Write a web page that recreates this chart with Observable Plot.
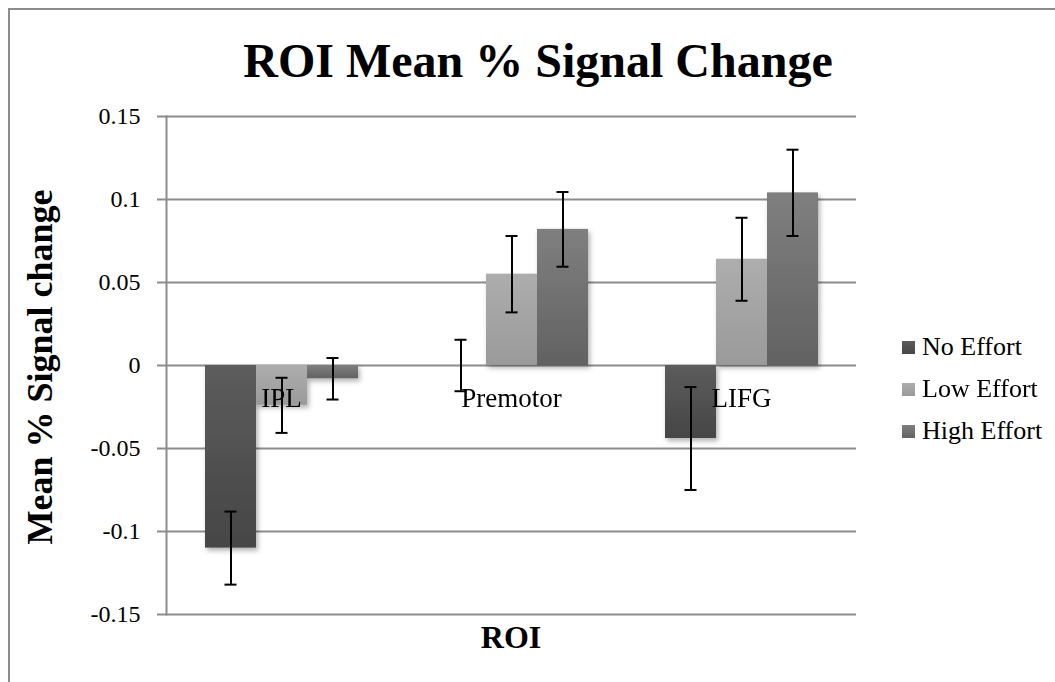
<!DOCTYPE html>
<html>
<head>
<meta charset="utf-8">
<script src="https://cdn.jsdelivr.net/npm/d3@7"></script>
<script src="https://cdn.jsdelivr.net/npm/@observablehq/plot@0.6"></script>
<style>
  body { margin: 0; background: #fff; }
  #wrap { position: relative; width: 1055px; height: 682px; overflow: hidden; background: #fff;
          font-family: "Liberation Serif", "Times New Roman", serif; color: #000; }
  #border { position: absolute; left: 8px; top: 8px; width: 1200px; height: 800px;
            border: 2px solid #8c8c8c; box-sizing: border-box; }
  #chart { position: absolute; left: 0; top: 0; }
  .title { position: absolute; left: 0; width: 1076px; top: 37px; text-align: center;
           font-weight: bold; font-size: 48px; line-height: 1; white-space: nowrap; }
  .ylab { position: absolute; left: 40px; top: 367px; transform: translate(-50%, -50%) rotate(-90deg);
          font-weight: bold; font-size: 36px; line-height: 1; white-space: nowrap; }
  .xlab { position: absolute; left: 511px; top: 621px; transform: translateX(-50%);
          font-weight: bold; font-size: 32px; line-height: 1; white-space: nowrap; }
  #legend { position: absolute; left: 902px; top: 326px; width: 153px; }
  #legend .lg-swatch { height: 42px !important; padding: 0 !important; margin: 0 !important; }
  #legend .lg-swatch > svg { margin-right: 7px !important; }
  #legend .lg-label { font-size: 26px !important; overflow: visible !important; max-width: none !important; }
</style>
</head>
<body>
<div id="wrap">
  <div id="border"></div>
  <div id="chart"></div>
  <div class="title">ROI Mean % Signal Change</div>
  <div class="ylab">Mean % Signal change</div>
  <div class="xlab">ROI</div>
  <div id="legend"></div>
</div>
<script>
// ---- data ----
const rois = ["IPL", "Premotor", "LIFG"];
const series = ["No Effort", "Low Effort", "High Effort"];
const noEffort = [-0.110, 0, -0.044];
const lowEffort = [-0.024, 0.055, 0.064];
const highEffort = [-0.008, 0.082, 0.104];
const noEffortErr = [0.022, 0.0155, 0.031];
const lowEffortErr = [0.0166, 0.023, 0.025];
const highEffortErr = [0.0125, 0.0225, 0.026];
const yTicks = [-0.15, -0.1, -0.05, 0, 0.05, 0.1, 0.15];
const yTickLabels = ["-0.15", "-0.1", "-0.05", "0", "0.05", "0.1", "0.15"];
const seriesFill = ["url(#gNo)", "url(#gLow)", "url(#gHigh)"];

const values = [noEffort, lowEffort, highEffort];
const errors = [noEffortErr, lowEffortErr, highEffortErr];
const rows = rois.flatMap((roi, i) => series.map((s, j) => ({
  roi, series: s, value: values[j][i], err: errors[j][i]
})));

const gridColor = "#8c8c8c";
const fontFamily = '"Liberation Serif", "Times New Roman", serif';

const chart = Plot.plot({
  width: 1055,
  height: 682,
  marginLeft: 166,
  marginRight: 199,
  marginTop: 116,
  marginBottom: 68,
  style: { fontFamily, fontSize: "24px", color: "#000", background: "transparent", overflow: "visible" },
  fx: { domain: rois, padding: 0, axis: null },
  x: { domain: series, paddingInner: 0, paddingOuter: 0.725, axis: null },
  y: { domain: [-0.15, 0.15] },
  color: { domain: series, range: seriesFill },
  marks: [
    Plot.gridY(yTicks, { stroke: gridColor, strokeOpacity: 1, strokeWidth: 2 }),
    Plot.frame({ anchor: "left", facetAnchor: "left", stroke: gridColor, strokeWidth: 2 }),
    Plot.axisY(yTicks, {
      tickSize: 9, tickPadding: 17, stroke: gridColor, strokeWidth: 2, fill: "#000",
      fontSize: 24, label: null,
      tickFormat: d => yTickLabels[yTicks.indexOf(d)]
    }),
    Plot.barY(rows, { fx: "roi", x: "series", y: "value", fill: "series", inset: 0 }),
    Plot.text(rois, { fx: d => d, y: () => 0, text: d => d, dy: 33, fontSize: 27, fill: "#000" }),
    Plot.ruleX(rows, { fx: "roi", x: "series", y1: d => d.value - d.err, y2: d => d.value + d.err,
      stroke: "#000", strokeWidth: 2 }),
    Plot.tickY(rows, { fx: "roi", x: "series", y: d => d.value - d.err, insetLeft: 19.5, insetRight: 19.5,
      stroke: "#000", strokeWidth: 2 }),
    Plot.tickY(rows, { fx: "roi", x: "series", y: d => d.value + d.err, insetLeft: 19.5, insetRight: 19.5,
      stroke: "#000", strokeWidth: 2 })
  ]
});

// gradients + shadow
const svg = d3.select(chart);
const defs = svg.insert("defs", ":first-child");
const grads = [
  ["gNo", "#5c5c5c", "#464646"],
  ["gLow", "#adadad", "#9a9a9a"],
  ["gHigh", "#7f7f7f", "#626262"]
];
for (const [id, c0, c1] of grads) {
  const g = defs.append("linearGradient").attr("id", id).attr("x1", 0).attr("y1", 0).attr("x2", 0).attr("y2", 1);
  g.append("stop").attr("offset", "0%").attr("stop-color", c0);
  g.append("stop").attr("offset", "100%").attr("stop-color", c1);
}
const f = defs.append("filter").attr("id", "shadow").attr("x", "-20%").attr("y", "-20%").attr("width", "150%").attr("height", "150%");
f.append("feDropShadow").attr("dx", 2).attr("dy", 3).attr("stdDeviation", 2.5)
  .attr("flood-color", "#000").attr("flood-opacity", 0.3);
svg.selectAll('g[aria-label="bar"]').attr("filter", "url(#shadow)");

document.getElementById("chart").appendChild(chart);

const legend = Plot.legend({
  color: { domain: series, range: seriesFill },
  legend: "swatches",
  columns: 1,
  swatchSize: 13,
  className: "lg",
  style: { fontFamily, fontSize: "26px", color: "#000" }
});
document.getElementById("legend").appendChild(legend);
</script>
</body>
</html>
